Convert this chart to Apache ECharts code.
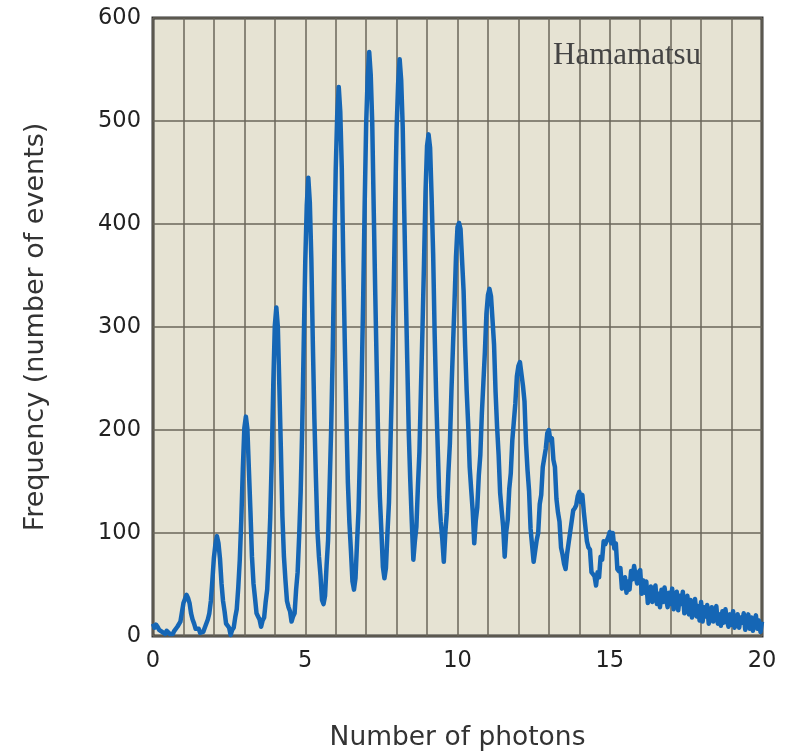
<!DOCTYPE html>
<html>
<head>
<meta charset="utf-8">
<title>Photon number distribution</title>
<script src="https://cdn.jsdelivr.net/npm/echarts@6/dist/echarts.min.js"></script>
<style>
  html, body { margin: 0; padding: 0; background: #ffffff; }
  #chart { width: 789px; height: 753px; }
</style>
</head>
<body>
<div id="chart"></div>
<script>
// Photon-counting pulse-height histogram, sampled every 0.05 photon.
const xStart = 0;
const xStep = 0.05;

// Counts for 0.00 .. 4.95 photons
const counts0to5 = [
  12, 8, 11, 9, 6, 5, 4, 5, 2, 5, 4, 2, 3, 2, 5, 5, 9, 10, 14, 23,
  32, 36, 40, 37, 32, 22, 16, 12, 7, 7, 7, 3, 4, 4, 8, 9, 16, 22, 34, 54,
  76, 89, 97, 90, 75, 51, 34, 24, 12, 10, 8, 1, 6, 8, 18, 26, 47, 74, 113, 162,
  202, 213, 201, 161, 121, 77, 51, 37, 22, 19, 16, 9, 15, 18, 33, 45, 76, 115, 172, 244,
  301, 319, 300, 242, 181, 116, 77, 54, 34, 28, 24, 14, 19, 22, 45, 62, 97, 140, 202, 284
];

// Counts for 5.00 .. 9.95 photons
const counts5to10 = [
  363, 418, 445, 421, 366, 283, 211, 154, 102, 77, 59, 35, 31, 39, 68, 93, 145, 200, 272, 364,
  452, 506, 533, 509, 454, 362, 283, 214, 149, 110, 83, 53, 45, 56, 90, 122, 180, 244, 323, 416,
  497, 542, 567, 545, 498, 412, 331, 256, 182, 135, 102, 67, 56, 66, 100, 130, 188, 248, 324, 415,
  492, 536, 560, 540, 495, 414, 337, 267, 197, 150, 110, 74, 92, 106, 145, 179, 240, 298, 362, 431,
  476, 487, 474, 426, 371, 293, 232, 184, 135, 111, 94, 72, 100, 120, 158, 187, 237, 280, 322, 368
];

// Counts for 10.00 .. 14.95 photons
const counts10to15 = [
  397, 401, 395, 365, 335, 282, 239, 206, 164, 142, 121, 90, 112, 125, 156, 176, 216, 246, 276, 313,
  331, 337, 330, 307, 283, 237, 203, 176, 139, 122, 106, 77, 101, 113, 143, 158, 190, 208, 226, 252,
  262, 266, 265, 243, 228, 187, 161, 141, 104, 88, 72, 73, 93, 100, 128, 137, 164, 173, 182, 197,
  200, 190, 192, 171, 164, 133, 120, 111, 86, 79, 70, 65, 80, 80, 101, 102, 122, 124, 127, 136,
  140, 130, 137, 120, 119, 92, 86, 84, 62, 62, 58, 49, 62, 57, 77, 74, 92, 89, 88, 96
];

// Counts for 15.00 .. 20.00 photons
const counts15to20 = [
  101, 90, 100, 85, 90, 65, 63, 66, 46, 51, 57, 42, 53, 45, 63, 55, 68, 58, 51, 62,
  64, 41, 54, 42, 53, 32, 38, 48, 33, 44, 49, 31, 41, 28, 45, 33, 47, 36, 28, 42,
  31, 46, 26, 38, 43, 25, 39, 31, 43, 22, 27, 39, 21, 35, 18, 29, 36, 19, 29, 15,
  33, 14, 28, 19, 30, 12, 18, 28, 14, 24, 29, 12, 21, 10, 24, 13, 26, 15, 9, 21,
  11, 24, 8, 18, 21, 8, 18, 13, 22, 6, 11, 21, 7, 18, 5, 15, 20, 7, 15, 4,
  14
];

const xTickLabels = [0, 5, 10, 15, 20];
const yTickLabels = [0, 100, 200, 300, 400, 500, 600];

const counts = counts0to5.concat(counts5to10, counts10to15, counts15to20);
const points = counts.map((c, i) => [+(xStart + i * xStep).toFixed(2), c]);

const chart = echarts.init(document.getElementById('chart'), null, { renderer: 'canvas' });

const labelFont = 'DejaVu Sans, Verdana, sans-serif';

chart.setOption({
  animation: false,
  backgroundColor: '#ffffff',
  title: {
    text: 'Hamamatsu',
    left: 548,
    top: 35,
    textStyle: {
      fontFamily: 'Liberation Serif, Times New Roman, serif',
      fontSize: 31,
      fontWeight: 'normal',
      color: '#444444'
    }
  },
  grid: {
    left: 153,
    top: 18,
    right: 27,
    bottom: 117,
    show: true,
    backgroundColor: '#e6e3d3',
    borderColor: '#333333',
    borderWidth: 3,
    containLabel: false,
    outerBoundsMode: 'none'
  },
  xAxis: {
    type: 'value',
    min: 0,
    max: 20,
    interval: 1,
    name: 'Number of photons',
    nameLocation: 'middle',
    nameGap: 89,
    nameTextStyle: { fontFamily: labelFont, fontSize: 26.5, color: '#333333' },
    axisLine: { show: false },
    axisTick: { show: false },
    axisLabel: {
      margin: 14,
      fontFamily: labelFont,
      fontSize: 22.5,
      color: '#222222',
      formatter: v => (xTickLabels.includes(v) ? String(v) : '')
    },
    splitLine: { show: true, lineStyle: { color: '#6a665a', width: 1.5 } }
  },
  yAxis: {
    type: 'value',
    min: 0,
    max: 600,
    interval: 100,
    name: 'Frequency (number of events)',
    nameLocation: 'middle',
    nameGap: 104,
    nameRotate: 90,
    nameTextStyle: { fontFamily: labelFont, fontSize: 27, color: '#333333' },
    axisLine: { show: false },
    axisTick: { show: false },
    axisLabel: {
      margin: 12,
      fontFamily: labelFont,
      fontSize: 22.5,
      color: '#222222',
      formatter: v => (yTickLabels.includes(v) ? String(v) : '')
    },
    splitLine: { show: true, lineStyle: { color: '#6a665a', width: 1.5 } }
  },
  series: [{
    type: 'line',
    data: points,
    showSymbol: false,
    symbol: 'none',
    sampling: null,
    lineStyle: { color: '#1566b5', width: 4.5, join: 'round' },
    z: 3
  }]
});
</script>
</body>
</html>
